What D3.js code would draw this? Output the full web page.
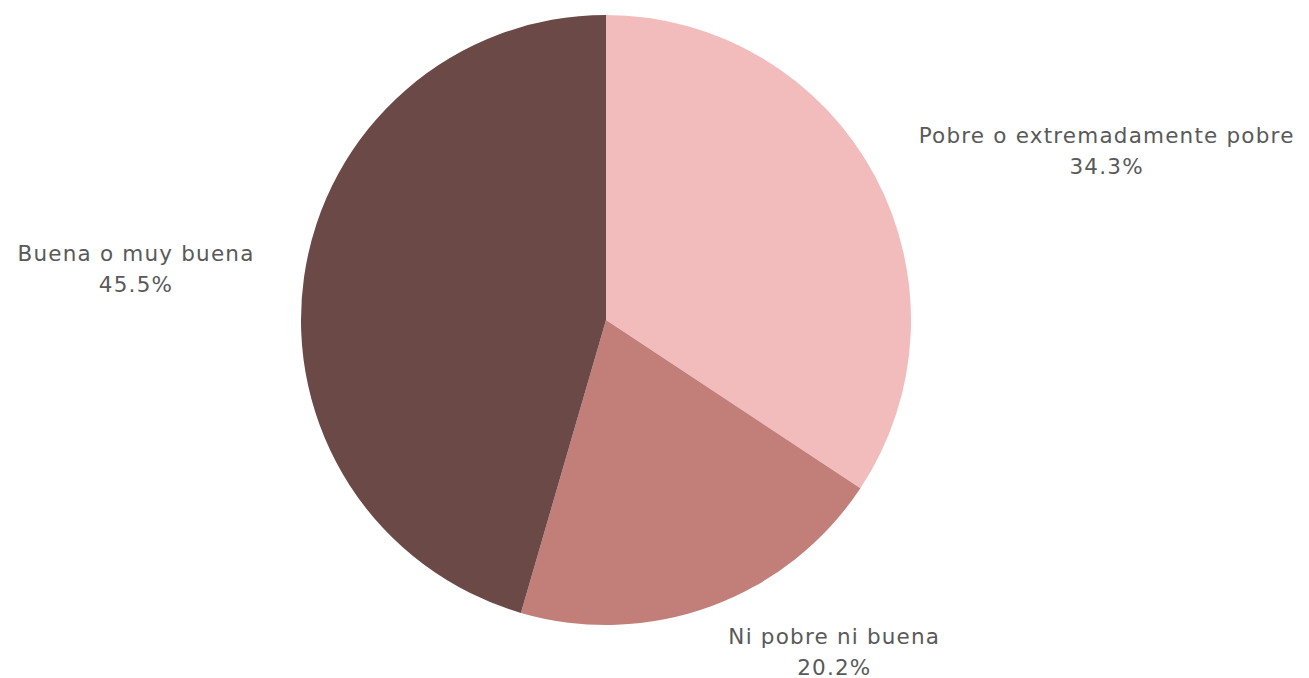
<!DOCTYPE html>
<html>
<head>
<meta charset="utf-8">
<script src="https://cdn.jsdelivr.net/npm/d3@7"></script>
<style>
  html, body { margin: 0; padding: 0; background: #fff; }
  svg text { font-family: "DejaVu Sans", sans-serif; }
</style>
</head>
<body>
<svg id="chart" width="1309" height="678"></svg>
<script>
const categories = ["Pobre o extremadamente pobre", "Ni pobre ni buena", "Buena o muy buena"];
const values = [34.3, 20.2, 45.5];
const colors = ["#f2bcbc", "#c27f79", "#6b4946"];

const cx = 606, cy = 320, r = 305;
const svg = d3.select("#chart");
const g = svg.append("g").attr("transform", `translate(${cx},${cy})`);

const data = categories.map((c, i) => ({ name: c, value: values[i], color: colors[i] }));
const pie = d3.pie().value(d => d.value).sort(null);
const arcs = pie(data);
const arc = d3.arc().innerRadius(0).outerRadius(r);
const labelArc = d3.arc().innerRadius(r + 50).outerRadius(r + 50);

g.selectAll("path").data(arcs).enter().append("path")
  .attr("d", arc).attr("fill", d => d.data.color);

const fs = 21.5, lh = 32;
arcs.forEach(a => {
  const [x, y] = labelArc.centroid(a);
  const mid = (a.startAngle + a.endAngle) / 2;
  const right = Math.sin(mid) >= 0;
  const t = g.append("text")
    .attr("fill", "#595959")
    .style("font-size", fs + "px")
    .style("letter-spacing", "1.2px");
  const l1 = t.append("tspan").text(a.data.name);
  const w = l1.node().getComputedTextLength();
  const left = right ? x : x - w;
  l1.attr("x", left + w / 2).attr("y", y - lh / 2 + 7).attr("text-anchor", "middle");
  t.append("tspan").text(d3.format(".1f")(a.data.value) + "%")
    .attr("x", left + w / 2).attr("y", y + lh / 2 + 6).attr("text-anchor", "middle");
});
</script>
</body>
</html>
